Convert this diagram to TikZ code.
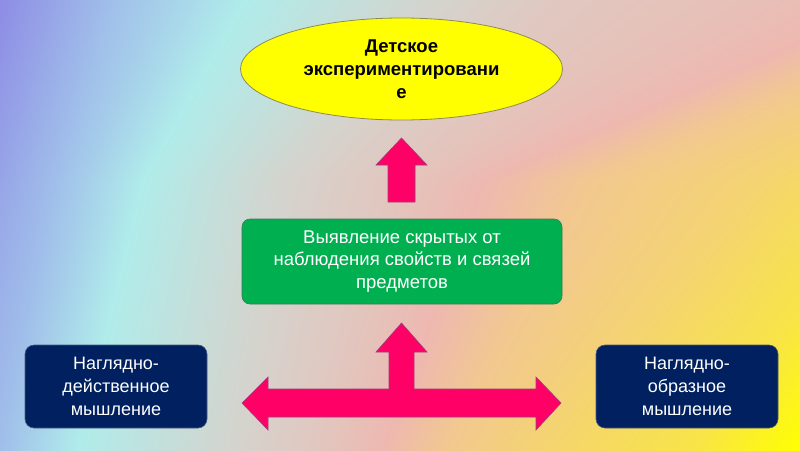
\documentclass[tikz,border=0pt]{standalone}
\usepackage{fontspec}
\setmainfont{Liberation Sans}
\usetikzlibrary{shapes.geometric}

% background band colours
\definecolor{cPu}{HTML}{8C88E4}\definecolor{cLb}{HTML}{A0BEEA}\definecolor{cCy}{HTML}{B0ECEA}
\definecolor{cGr}{HTML}{D4D4CE}\definecolor{cBe}{HTML}{E0C8C0}\definecolor{cPk}{HTML}{EEB8B0}
\definecolor{cOr}{HTML}{F2C890}\definecolor{cGo}{HTML}{F4D470}\definecolor{cYg}{HTML}{F8E448}
\definecolor{cYe}{HTML}{FFFF00}

% position of a colour band at height \yy (top row y=0, middle y=180, bottom y=450)
\newcommand\bandpos[4]{%
  \pgfmathsetmacro#1{25+((\yy<180) ? (#2+(#3-#2)*(\yy/180)) : (#3+(#4-#3)*((\yy-180)/270)))/16}}

\definecolor{ellfill}{HTML}{FFFF00}
\definecolor{ellline}{HTML}{8C8C50}
\definecolor{greenfill}{HTML}{00B050}
\definecolor{greenline}{HTML}{3C7A55}
\definecolor{navyfill}{HTML}{002060}
\definecolor{navyline}{HTML}{4A5A80}
\definecolor{arrowfill}{HTML}{FF0066}
\definecolor{arrowline}{HTML}{A03C78}

\tikzset{
  goalshape/.style={ellipse, fill=ellfill, draw=ellline, line width=0.8pt,
    minimum width=322pt, minimum height=102pt, inner sep=0pt, align=center,
    font=\fontsize{18.5}{23}\selectfont\bfseries, text=black},
  midbox/.style={rectangle, rounded corners=8pt, fill=greenfill, draw=greenline,
    line width=0.6pt, minimum width=320pt, minimum height=85pt, align=center,
    font=\fontsize{18.5}{22.5}\selectfont, text=white},
  sidebox/.style={rectangle, rounded corners=9pt, fill=navyfill, draw=navyline,
    line width=0.6pt, minimum width=182pt, minimum height=83pt, align=center,
    font=\fontsize{18}{23}\selectfont, text=white},
  blockarrow/.style={fill=arrowfill, draw=arrowline, line width=0.6pt, line join=miter}
}

\begin{document}
\begin{tikzpicture}[x=1pt,y=-1pt]
\useasboundingbox (0,0) rectangle (800,450);
% background: diagonal rainbow, drawn as thin strips whose colour bands shift
\foreach \i in {0,...,149} {
  \pgfmathsetmacro\yy{3*\i+1.5}
  \bandpos\bpA{-10}{-60}{-150}
  \bandpos\bpB{110}{55}{0}
  \bandpos\bpC{245}{143}{77}
  \bandpos\bpD{430}{280}{230}
  \bandpos\bpE{561}{380}{310}
  \bandpos\bpF{900}{485}{383}
  \bandpos\bpG{1000}{587}{444}
  \bandpos\bpH{1100}{765}{540}
  \bandpos\bpI{1150}{900}{690}
  \bandpos\bpJ{1190}{1000}{800}
  \pgfdeclarehorizontalshading{bgs\i}{100bp}{color(0bp)=(cPu); color(\bpA bp)=(cPu);
    color(\bpB bp)=(cLb); color(\bpC bp)=(cCy); color(\bpD bp)=(cGr);
    color(\bpE bp)=(cBe); color(\bpF bp)=(cPk); color(\bpG bp)=(cOr);
    color(\bpH bp)=(cGo); color(\bpI bp)=(cYg); color(\bpJ bp)=(cYe);
    color(100bp)=(cYe)}
  \fill[shading=bgs\i] (0,3*\i) rectangle (800,3*\i+3.6);
}

% nodes
\node[goalshape] (goal) at (401.5,69) {Детское\\экспериментировани\\е};
\node[midbox] (reveal) at (402,261.5) {Выявление скрытых от\\наблюдения свойств и связей\\предметов};
\node[sidebox] (action) at (116,386.5) {Наглядно-\\действенное\\мышление};
\node[sidebox] (image) at (687,386.5) {Наглядно-\\образное\\мышление};

% arrow from green box up to ellipse
\draw[blockarrow] (388,202) -- (388,165) -- (376,165) -- (401.5,138) -- (427,165)
  -- (415,165) -- (415,202) -- cycle;

% T-shaped double arrow
\draw[blockarrow] (242,403) -- (268,377) -- (268,389) -- (389,389) -- (389,352)
  -- (376,352) -- (401.5,323) -- (427,352) -- (414,352) -- (414,389)
  -- (536,389) -- (536,377) -- (561,403) -- (536,430) -- (536,417)
  -- (268,417) -- (268,430) -- cycle;
\end{tikzpicture}
\end{document}
